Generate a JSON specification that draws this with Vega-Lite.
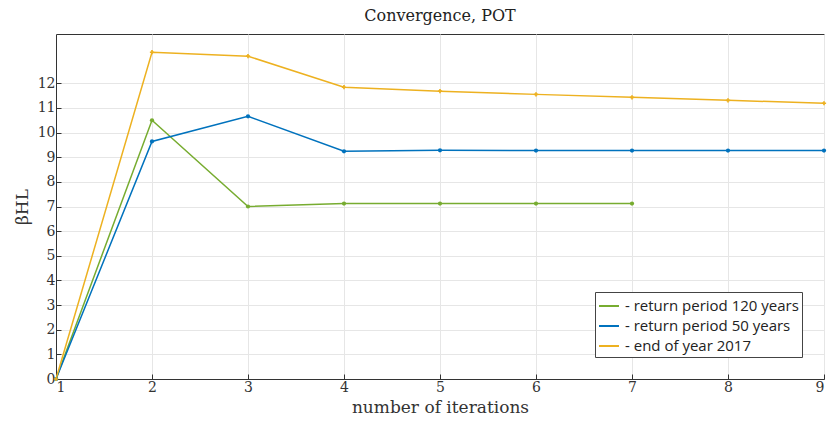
{
  "$schema": "https://vega.github.io/schema/vega-lite/v6.json",
  "autosize": {"type": "fit", "contains": "padding"},
  "width": 827,
  "height": 432,
  "padding": {"left": 13, "right": 0, "top": 8, "bottom": 17},
  "background": "white",
  "title": {"text": "Convergence, POT", "font": "DejaVu Serif", "fontSize": 16, "fontWeight": "normal", "color": "#222", "offset": 10},
  "data": {"values": [
    {"it": 1, "beta": 0, "series": "- return period 120 years"},
    {"it": 2, "beta": 10.5, "series": "- return period 120 years"},
    {"it": 3, "beta": 7.0, "series": "- return period 120 years"},
    {"it": 4, "beta": 7.12, "series": "- return period 120 years"},
    {"it": 5, "beta": 7.12, "series": "- return period 120 years"},
    {"it": 6, "beta": 7.12, "series": "- return period 120 years"},
    {"it": 7, "beta": 7.12, "series": "- return period 120 years"},
    {"it": 1, "beta": 0, "series": "- return period 50 years"},
    {"it": 2, "beta": 9.64, "series": "- return period 50 years"},
    {"it": 3, "beta": 10.66, "series": "- return period 50 years"},
    {"it": 4, "beta": 9.24, "series": "- return period 50 years"},
    {"it": 5, "beta": 9.28, "series": "- return period 50 years"},
    {"it": 6, "beta": 9.27, "series": "- return period 50 years"},
    {"it": 7, "beta": 9.27, "series": "- return period 50 years"},
    {"it": 8, "beta": 9.27, "series": "- return period 50 years"},
    {"it": 9, "beta": 9.27, "series": "- return period 50 years"},
    {"it": 1, "beta": 0, "series": "- end of year 2017"},
    {"it": 2, "beta": 13.26, "series": "- end of year 2017"},
    {"it": 3, "beta": 13.1, "series": "- end of year 2017"},
    {"it": 4, "beta": 11.84, "series": "- end of year 2017"},
    {"it": 5, "beta": 11.68, "series": "- end of year 2017"},
    {"it": 6, "beta": 11.55, "series": "- end of year 2017"},
    {"it": 7, "beta": 11.43, "series": "- end of year 2017"},
    {"it": 8, "beta": 11.31, "series": "- end of year 2017"},
    {"it": 9, "beta": 11.19, "series": "- end of year 2017"}
  ]},
  "config": {
    "view": {"stroke": "#333", "strokeWidth": 1},
    "axis": {
      "labelFont": "DejaVu Serif", "titleFont": "DejaVu Serif",
      "labelFontSize": 14, "titleFontSize": 17, "titleFontWeight": "normal",
      "labelColor": "#333", "titleColor": "#333",
      "domainColor": "#333", "tickColor": "#333", "tickSize": -5,
      "gridColor": "#e6e6e6", "gridWidth": 1
    }
  },
  "resolve": {"scale": {"color": "independent", "shape": "independent"}},
  "encoding": {
    "x": {"field": "it", "type": "quantitative",
      "scale": {"domain": [1, 9], "nice": false},
      "axis": {"values": [1,2,3,4,5,6,7,8,9], "title": "number of iterations", "labelPadding": 6, "titlePadding": 5}},
    "y": {"field": "beta", "type": "quantitative",
      "scale": {"domain": [0, 14], "nice": false},
      "axis": {"values": [0,1,2,3,4,5,6,7,8,9,10,11,12], "title": "βHL", "labelPadding": 6, "titlePadding": 6}}
  },
  "layer": [
    {"mark": {"type": "line", "strokeWidth": 1.5},
     "encoding": {
       "order": {"field": "it"},
       "color": {"field": "series", "type": "nominal",
         "sort": ["- return period 120 years", "- return period 50 years", "- end of year 2017"],
         "scale": {"domain": ["- return period 120 years", "- return period 50 years", "- end of year 2017"], "range": ["#77AC30", "#0072BD", "#EDB120"]},
         "legend": {"title": null, "orient": "bottom-right", "offset": 22, "symbolType": "stroke", "symbolStrokeWidth": 2, "symbolSize": 400,
           "labelFont": "Open Sans", "labelFontSize": 15, "labelLimit": 300, "labelColor": "#222", "strokeColor": "#444", "fillColor": "white", "padding": 3, "rowPadding": 1, "labelOffset": 5}}
     }},
    {"mark": {"type": "point", "size": 18, "filled": true, "opacity": 1},
     "encoding": {
       "color": {"field": "series", "type": "nominal",
         "scale": {"domain": ["- return period 120 years", "- return period 50 years", "- end of year 2017"], "range": ["#77AC30", "#0072BD", "#EDB120"]},
         "legend": null},
       "shape": {"field": "series", "type": "nominal",
         "scale": {"domain": ["- return period 120 years", "- return period 50 years", "- end of year 2017"], "range": ["circle", "circle", "cross"]}, "legend": null}}}
  ]
}
